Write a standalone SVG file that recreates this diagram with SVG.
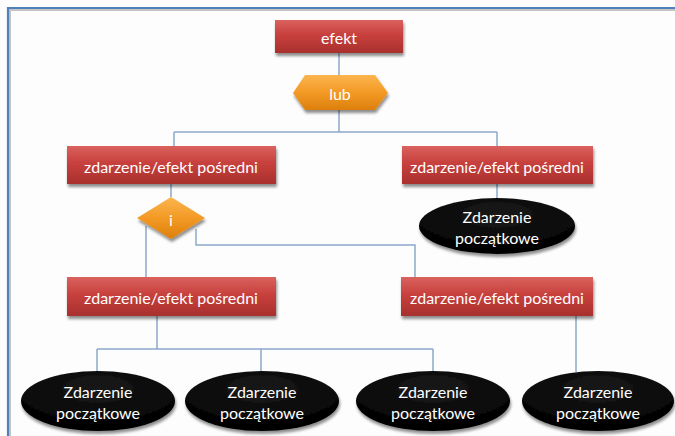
<svg xmlns="http://www.w3.org/2000/svg" width="675" height="436" viewBox="0 0 675 436">
  <defs>
    <linearGradient id="redFill" x1="0" y1="0" x2="0" y2="1">
      <stop offset="0" stop-color="#d9625e"/>
      <stop offset="0.45" stop-color="#c8403d"/>
      <stop offset="1" stop-color="#a8302d"/>
    </linearGradient>
    <linearGradient id="orangeFill" x1="0" y1="0" x2="0" y2="1">
      <stop offset="0" stop-color="#fbb54e"/>
      <stop offset="0.5" stop-color="#f39a25"/>
      <stop offset="1" stop-color="#dc7f0c"/>
    </linearGradient>
    <radialGradient id="blackFill" cx="0.5" cy="0.3" r="0.7">
      <stop offset="0" stop-color="#1a1a1a"/>
      <stop offset="1" stop-color="#000000"/>
    </radialGradient>
    <filter id="shadow" x="-20%" y="-30%" width="140%" height="170%">
      <feGaussianBlur in="SourceAlpha" stdDeviation="1.6"/>
      <feOffset dx="1" dy="2.5" result="b"/>
      <feComponentTransfer><feFuncA type="linear" slope="0.45"/></feComponentTransfer>
      <feMerge><feMergeNode/><feMergeNode in="SourceGraphic"/></feMerge>
    </filter>
  </defs>
  <style>
    .box { fill: url(#redFill); filter: url(#shadow); }
    .gate { fill: url(#orangeFill); filter: url(#shadow); }
    .basic { fill: url(#blackFill); filter: url(#shadow); }
    .lbl { font-family: Lato, "Open Sans", "DejaVu Sans", sans-serif; font-size: 16px; fill: #ffffff; text-anchor: middle; dominant-baseline: central; }
    .conn { fill: none; stroke: #8aa8cc; stroke-width: 1.5; }
  </style>

  <!-- page background and frame -->
  <rect x="0" y="0" width="675" height="436" fill="#fdfdfd"/>
  <path d="M10,436 V10 H675" fill="none" stroke="#c4c4c4" stroke-width="2"/>
  <path d="M8,436 V8 H675" fill="none" stroke="#4f81bd" stroke-width="2.2"/>

  <!-- connectors -->
  <g id="connectors" class="conn">
    <path d="M339,53 V75"/>
    <path d="M339,110 V132 M174,132 H497 M174,132 V146 M497,132 V146"/>
    <path d="M171,184 V197"/>
    <path d="M146,226 V277"/>
    <path d="M196,229 V245 H415 V277"/>
    <path d="M497,184 V198"/>
    <path d="M157,316 V349 M97,349 H433 M97,349 V371 M261,349 V371 M433,349 V371"/>
    <path d="M576,316 V372"/>
  </g>

  <!-- top event -->
  <g id="efekt">
    <rect class="box" x="275" y="20" width="128" height="33"/>
    <text class="lbl" x="339" y="37">efekt</text>
  </g>

  <!-- OR gate -->
  <g id="lub">
    <polygon class="gate" points="293,93 305,75 375,75 388,93 375,110 305,110"/>
    <text class="lbl" x="340" y="93">lub</text>
  </g>

  <!-- intermediate events, second level -->
  <g id="posredni-1">
    <rect class="box" x="67" y="146" width="209" height="38"/>
    <text class="lbl" x="171" y="166">zdarzenie/efekt pośredni</text>
  </g>
  <g id="posredni-2">
    <rect class="box" x="402" y="146" width="191" height="38"/>
    <text class="lbl" x="497" y="166">zdarzenie/efekt pośredni</text>
  </g>

  <!-- AND gate -->
  <g id="i">
    <polygon class="gate" points="171,197 205,218 171,239 137,218"/>
    <text class="lbl" x="171" y="219">i</text>
  </g>

  <!-- basic event under second intermediate -->
  <g id="poczatkowe-1">
    <ellipse class="basic" cx="497" cy="226" rx="78" ry="28"/>
    <text class="lbl" x="497" y="216">Zdarzenie</text>
    <text class="lbl" x="497" y="237">początkowe</text>
  </g>

  <!-- intermediate events, third level -->
  <g id="posredni-3">
    <rect class="box" x="67" y="277" width="209" height="39"/>
    <text class="lbl" x="171" y="297">zdarzenie/efekt pośredni</text>
  </g>
  <g id="posredni-4">
    <rect class="box" x="401" y="277" width="192" height="39"/>
    <text class="lbl" x="497" y="297">zdarzenie/efekt pośredni</text>
  </g>

  <!-- basic events, bottom row -->
  <g id="poczatkowe-2">
    <ellipse class="basic" cx="98" cy="401" rx="77" ry="30"/>
    <text class="lbl" x="98" y="391">Zdarzenie</text>
    <text class="lbl" x="98" y="412">początkowe</text>
  </g>
  <g id="poczatkowe-3">
    <ellipse class="basic" cx="262" cy="401" rx="77" ry="30"/>
    <text class="lbl" x="262" y="391">Zdarzenie</text>
    <text class="lbl" x="262" y="412">początkowe</text>
  </g>
  <g id="poczatkowe-4">
    <ellipse class="basic" cx="433" cy="401" rx="77" ry="30"/>
    <text class="lbl" x="433" y="391">Zdarzenie</text>
    <text class="lbl" x="433" y="412">początkowe</text>
  </g>
  <g id="poczatkowe-5">
    <ellipse class="basic" cx="598" cy="401" rx="76" ry="30"/>
    <text class="lbl" x="598" y="391">Zdarzenie</text>
    <text class="lbl" x="598" y="412">początkowe</text>
  </g>
</svg>
